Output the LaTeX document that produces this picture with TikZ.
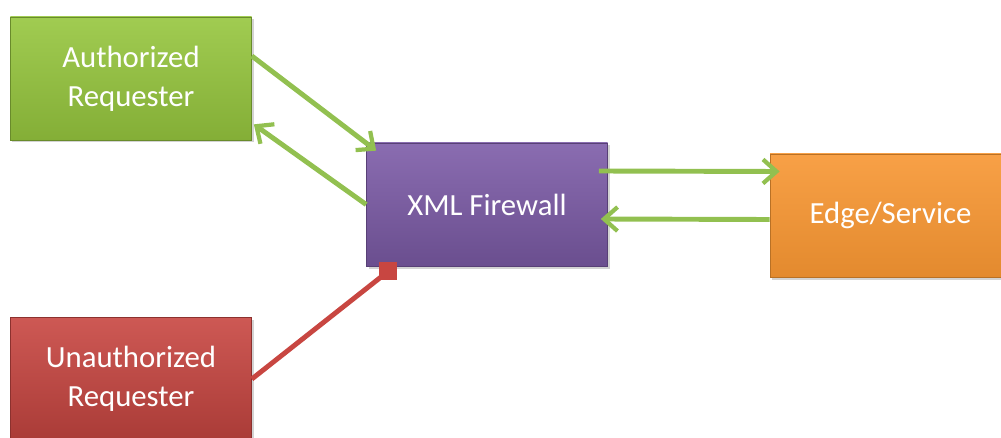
\documentclass[tikz,border=0pt]{standalone}
\usepackage{fontspec}
\setmainfont{Carlito}
\usetikzlibrary{arrows.meta,shadows}

\definecolor{authgreen}{RGB}{150,198,62}
\definecolor{arrowgreen}{RGB}{146,192,80}
\definecolor{fwpurple}{RGB}{125,92,168}
\definecolor{edgeorange}{RGB}{247,150,50}
\definecolor{badred}{RGB}{200,70,65}

\tikzstyle{box} = [rectangle, minimum width=4.82cm, minimum height=2.46cm, inner sep=0pt,
  align=center, text=white, font=\fontsize{17.5}{22}\selectfont,
  drop shadow={opacity=0.35, shadow xshift=0.04cm, shadow yshift=-0.05cm}]
\tikzstyle{authbox} = [box, top color=authgreen!90!white, bottom color=authgreen!88!black, draw=authgreen!70!black, line width=0.4pt]
\tikzstyle{fwbox} = [box, top color=fwpurple!90!white, bottom color=fwpurple!85!black, draw=fwpurple!70!black, line width=0.4pt]
\tikzstyle{edgebox} = [box, top color=edgeorange!90!white, bottom color=edgeorange!92!black, draw=edgeorange!75!black, line width=0.4pt]
\tikzstyle{badbox} = [box, top color=badred!90!white, bottom color=badred!85!black, draw=badred!70!black, line width=0.4pt]
\tikzstyle{flow} = [arrowgreen, line width=2.8pt, -{Straight Barb[length=0.27cm, width=0.48cm, line width=2.4pt]}]
\tikzstyle{blocked} = [badred, line width=2.8pt]

\begin{document}
\begin{tikzpicture}
		\useasboundingbox (0,0) rectangle (20.02,8.74);
		\node[authbox] (auth) at (2.62,7.17) {Authorized\\Requester};
		\node[fwbox] (fw) at (9.74,4.65) {XML Firewall};
		\node[edgebox] (edge) at (17.81,4.43) {Edge/Service};
		\node[badbox] (unauth) at (2.62,1.16) {Unauthorized\\Requester};
		% requests and replies
		\draw[flow] ([yshift=0.45cm]auth.east) -- ([shift={(0.2cm,-0.16cm)}]fw.north west);
		\draw[flow] (fw.west) -- ([shift={(0.04cm,0.32cm)}]auth.south east);
		\draw[flow] ([shift={(-0.18cm,0.67cm)}]fw.east) -- ([shift={(0.2cm,0.88cm)}]edge.west);
		\draw[flow] ([yshift=-0.08cm]edge.west) -- ([shift={(-0.14cm,-0.29cm)}]fw.east);
		% blocked request
		\coordinate (stop) at ([shift={(0.44cm,-0.1cm)}]fw.south west);
		\draw[blocked] (unauth.east) -- (stop);
		\fill[badred] ([shift={(-0.18cm,-0.18cm)}]stop) rectangle ([shift={(0.18cm,0.18cm)}]stop);
\end{tikzpicture}
\end{document}
